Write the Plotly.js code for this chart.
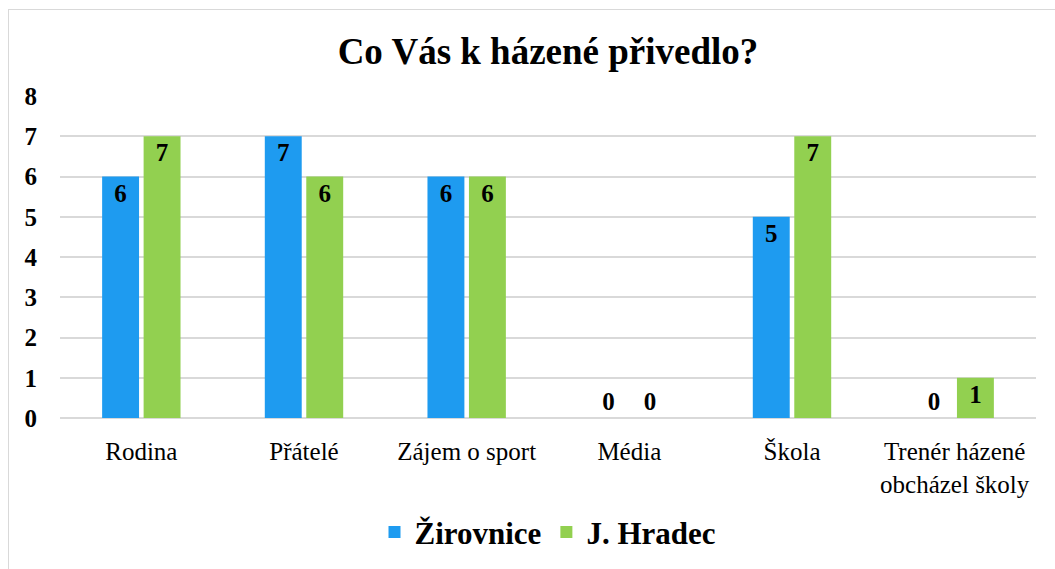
<!DOCTYPE html>
<html>
<head>
<meta charset="utf-8">
<script src="https://cdn.plot.ly/plotly-3.0.1.min.js"></script>
<style>
html,body{margin:0;padding:0;background:#fff;}
#wrap{position:relative;width:1055px;height:569px;overflow:hidden;}
#chart{position:absolute;left:0;top:0;width:1055px;height:569px;}
#frame{position:absolute;left:8px;top:9px;width:1100px;height:600px;border-left:1px solid #d9d9d9;border-top:1px solid #d9d9d9;pointer-events:none;}
</style>
</head>
<body>
<div id="wrap"><div id="chart"></div><div id="frame"></div></div>
<script>
const categories = ["Rodina", "Přátelé", "Zájem o sport", "Média", "Škola", "Trenér házené<br>obcházel školy"];
const zirovnice = [6, 7, 6, 0, 5, 0];
const jhradec = [7, 6, 6, 0, 7, 1];
const seriesNames = ["Žirovnice", "J. Hradec"];
const yTicks = [0, 1, 2, 3, 4, 5, 6, 7, 8];

const serif = "Liberation Serif, Times New Roman, serif";
function pos(arr){ return arr.map(v => v === 0 ? "outside" : "inside"); }

const lblFont = {family: serif, size: 25, color: "#000", weight: "bold"};
const common = {
  type: "bar",
  x: categories,
  texttemplate: "%{y}",
  textfont: lblFont,
  insidetextfont: lblFont,
  outsidetextfont: lblFont,
  constraintext: "none",
  cliponaxis: false,
  hoverinfo: "skip"
};

const traces = [
  Object.assign({}, common, {name: seriesNames[0], y: zirovnice, textposition: pos(zirovnice), marker: {color: "#1E9BF0"}}),
  Object.assign({}, common, {name: seriesNames[1], y: jhradec, textposition: pos(jhradec), marker: {color: "#92D050"}})
];

const layout = {
  width: 1055, height: 569,
  margin: {l: 60, r: 19, t: 96, b: 151, autoexpand: false},
  paper_bgcolor: "rgba(0,0,0,0)",
  plot_bgcolor: "#fff",
  title: {text: "<b>Co Vás k házené přivedlo?</b>", font: {family: serif, size: 37, color: "#000"}, x: 0.5, xanchor: "center", y: 0.91, yanchor: "middle", xref: "paper"},
  barmode: "group",
  bargap: 0.49,
  bargroupgap: 0.11,
  xaxis: {
    tickfont: {family: serif, size: 25, color: "#000"},
    showgrid: false, showline: false, zeroline: false, ticks: "", ticklabelstandoff: 16,
    automargin: false
  },
  yaxis: {
    range: [0, 8], tickvals: yTicks, ticktext: yTicks.map(String),
    tickfont: {family: serif, size: 25, color: "#000", weight: "bold"},
    showgrid: true, gridcolor: "#d9d9d9", gridwidth: 2,
    zeroline: true, zerolinecolor: "#d9d9d9", zerolinewidth: 2,
    showline: false, ticks: "", ticklabelstandoff: 22, automargin: false
  },
  legend: {
    orientation: "h", x: 0.5, xanchor: "center", y: -0.355, yanchor: "middle",
    font: {family: serif, size: 31, color: "#000", weight: "bold"},
    itemwidth: 30, traceorder: "normal"
  },
  showlegend: true
};

Plotly.newPlot("chart", traces, layout, {displayModeBar: false, staticPlot: true});
</script>
</body>
</html>
